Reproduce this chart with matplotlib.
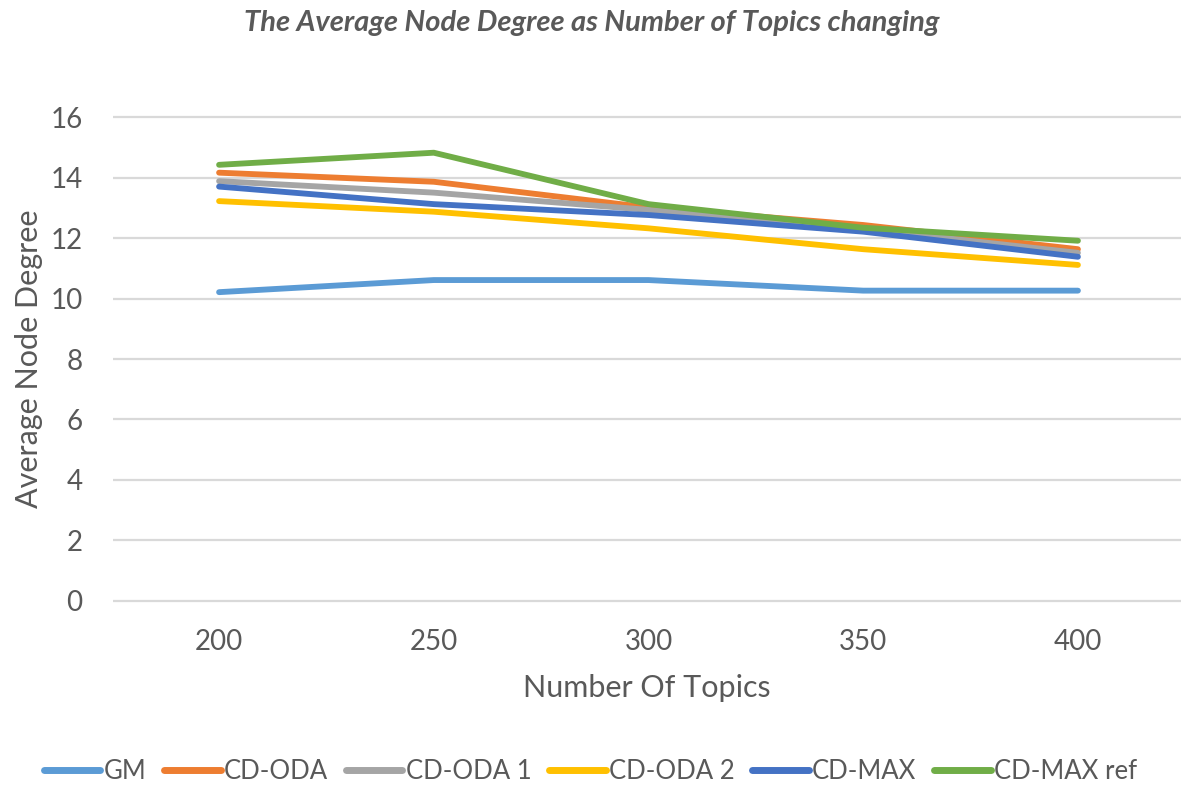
import matplotlib
matplotlib.use("Agg")
import matplotlib.pyplot as plt

plt.rcParams['font.family'] = ['Lato', 'DejaVu Sans']

topics = ["200", "250", "300", "350", "400"]
gm = [10.21, 10.61, 10.61, 10.26, 10.26]
cd_oda = [14.16, 13.86, 13.01, 12.43, 11.63]
cd_oda1 = [13.88, 13.50, 12.93, 12.30, 11.51]
cd_oda2 = [13.22, 12.87, 12.32, 11.63, 11.11]
cd_max = [13.70, 13.12, 12.76, 12.21, 11.38]
cd_max_ref = [14.42, 14.82, 13.12, 12.34, 11.91]

series = [
    ("GM", gm, "#5B9BD5"),
    ("CD-ODA", cd_oda, "#ED7D31"),
    ("CD-ODA 1", cd_oda1, "#A5A5A5"),
    ("CD-ODA 2", cd_oda2, "#FFC000"),
    ("CD-MAX", cd_max, "#4472C4"),
    ("CD-MAX ref", cd_max_ref, "#70AD47"),
]

W, H = 1181, 785
fig = plt.figure(figsize=(W / 100, H / 100), dpi=100)
# plot area in pixels: left 113, right edge of figure, y from 604 to 114
ax = fig.add_axes([113 / W, (H - 604) / H, (W - 113) / W, (604 - 114) / H])

x = list(range(len(topics)))
for name, vals, col in series:
    ax.plot(x, vals, color=col, lw=4.2, solid_capstyle="round",
            solid_joinstyle="round", label=name)

ax.set_xlim(-0.494, 4.48)
ax.set_ylim(-0.1, 16.1)
ax.set_yticks(range(0, 17, 2))
ax.set_xticks(x)
ax.set_xticklabels(topics)
ax.grid(axis="y", color="#D9D9D9", lw=1.6)
ax.set_axisbelow(True)
for s in ax.spines.values():
    s.set_visible(False)
ax.tick_params(axis="both", length=0, colors="#595959", labelsize=20)
ax.tick_params(axis="y", pad=22)
ax.tick_params(axis="x", pad=18)

ax.set_xlabel("Number Of Topics", fontsize=22, color="#595959", labelpad=14)
ax.set_ylabel("Average Node Degree", fontsize=22, color="#595959", labelpad=5)

fig.text(0.501, 0.971, "The Average Node Degree as Number of Topics changing",
         ha="center", va="center", fontsize=21, color="#595959",
         fontweight="bold", style="italic")

leg = fig.legend(loc="center", bbox_to_anchor=(0.5, 0.017), ncol=6,
                 frameon=False, fontsize=18.5, handlelength=2.2,
                 handletextpad=0.12, columnspacing=0.7, labelcolor="#595959")
for ln in leg.get_lines():
    ln.set_linewidth(5)

fig.savefig("out.png", dpi=100)
